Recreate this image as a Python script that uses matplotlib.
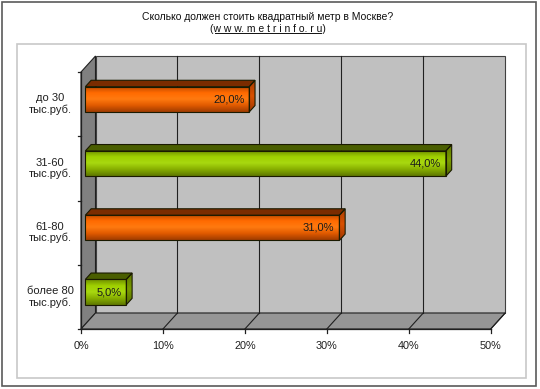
import numpy as np
import matplotlib
matplotlib.use("Agg")
import matplotlib.pyplot as plt
from matplotlib.patches import Polygon, Rectangle
from matplotlib.colors import LinearSegmentedColormap

# ---- data ----
categories = ["до 30\nтыс.руб.", "31-60\nтыс.руб.", "61-80\nтыс.руб.", "более 80\nтыс.руб."]
values = [20.0, 44.0, 31.0, 5.0]
bar_colors = ["orange", "green", "orange", "green"]
xticks = [0, 10, 20, 30, 40, 50]
xtick_labels = ["0%", "10%", "20%", "30%", "40%", "50%"]
title1 = "Сколько должен стоить квадратный метр в Москве?"
title2 = "(w w w. m e t r i n f o. r u)"

W, H = 540, 389
fig = plt.figure(figsize=(W / 100, H / 100), dpi=100)
fig.patch.set_facecolor("white")

FONT = ["Liberation Sans", "DejaVu Sans"]

# pixel mapping of the front plane
X0PX, PXPER = 81.0, 8.194
Y0PX, PXPERCAT = 329.0, 64.25

def fpx(x, y):
    return x / W, 1 - y / H

# frames
fig.patches.append(Rectangle(fpx(2, 386), 534 / W, 384 / H, transform=fig.transFigure,
                             facecolor="white", edgecolor="#5a5a5a", lw=1.2, zorder=-3))
fig.patches.append(Rectangle(fpx(17, 378), 509 / W, 334 / H, transform=fig.transFigure,
                             facecolor="white", edgecolor="#c8c8c8", lw=1.2, zorder=-2))

ax = fig.add_axes([0, 0, 1, 1])
ax.set_zorder(1)
ax.set_xlim((0 - X0PX) / PXPER, (W - X0PX) / PXPER)
ax.set_ylim((Y0PX - H) / PXPERCAT, Y0PX / PXPERCAT)
ax.axis("off")

n = len(categories)
XMAX = 50.0
DX = 14.5 / PXPER       # depth shift in data units (x)
DY = 16.0 / PXPERCAT    # depth shift in data units (y)
YMAX = float(n)

# back wall
ax.add_patch(Polygon([(DX, DY), (XMAX + DX, DY), (XMAX + DX, YMAX + DY), (DX, YMAX + DY)],
                     closed=True, facecolor="#c0c0c0", edgecolor="#404040", lw=0.8, zorder=1))
# left wall
ax.add_patch(Polygon([(0, 0), (DX, DY), (DX, YMAX + DY), (0, YMAX)],
                     closed=True, facecolor="#808080", edgecolor="#202020", lw=0.8, zorder=1))
# floor
ax.add_patch(Polygon([(0, 0), (XMAX, 0), (XMAX + DX, DY), (DX, DY)],
                     closed=True, facecolor="#969696", edgecolor="#202020", lw=0.8, zorder=1))
# gridlines
for t in xticks[1:-1]:
    ax.plot([t + DX, t + DX], [DY, YMAX + DY], color="#202020", lw=0.8, zorder=2)
for t in xticks[1:]:
    ax.plot([t, t + DX], [0, DY], color="#202020", lw=0.8, zorder=2)
# axes lines and ticks
ax.plot([0, XMAX], [0, 0], color="#202020", lw=0.9, zorder=3)
ax.plot([0, 0], [0, YMAX], color="#202020", lw=0.9, zorder=3)
tlx = 3.5 / PXPER
tly = 3.5 / PXPERCAT
for t in xticks:
    ax.plot([t, t], [0, -tly], color="#202020", lw=0.9, zorder=3)
for k in range(n + 1):
    ax.plot([0, -tlx], [k, k], color="#202020", lw=0.9, zorder=3)
for t, lab in zip(xticks, xtick_labels):
    ax.text(t, -17 / PXPERCAT, lab, ha="center", va="center", fontsize=7.8,
            family=FONT, color="#202020", zorder=5)

palette = {
    "orange": dict(front=["#b84800", "#ff6a00", "#ff7a10", "#e05a00", "#a03c00"],
                   top="#7a2c00", side=["#a83c00", "#d95000", "#a03800"]),
    "green": dict(front=["#6e8c00", "#9fd000", "#a8d810", "#86ad00", "#5e7800"],
                  top="#4a5e00", side=["#5e7800", "#7a9c00", "#566e00"]),
}

d1, d2 = 0.3, 0.7
BH = 25.3 / PXPERCAT
for i, (cat, v, ck) in enumerate(zip(categories, values, bar_colors)):
    yc = (n - 1 - i) + 0.5
    ox1, oy1 = d1 * DX, d1 * DY
    ox2, oy2 = d2 * DX, d2 * DY
    yb, yt = yc - BH / 2, yc + BH / 2
    pal = palette[ck]
    # front face gradient
    front = Polygon([(ox1, yb + oy1), (v + ox1, yb + oy1), (v + ox1, yt + oy1), (ox1, yt + oy1)],
                    closed=True, facecolor="none", edgecolor="none")
    ax.add_patch(front)
    cmap = LinearSegmentedColormap.from_list("f", pal["front"][::-1])
    grad = np.linspace(0, 1, 64).reshape(-1, 1)
    im = ax.imshow(grad, cmap=cmap, aspect="auto", origin="lower",
                   extent=(ox1, v + ox1, yb + oy1, yt + oy1), zorder=4, interpolation="bilinear")
    im.set_clip_path(front)
    ax.add_patch(Polygon([(ox1, yb + oy1), (v + ox1, yb + oy1), (v + ox1, yt + oy1), (ox1, yt + oy1)],
                         closed=True, facecolor="none", edgecolor="#1a1a00", lw=0.8, zorder=4.5))
    # top face
    ax.add_patch(Polygon([(ox1, yt + oy1), (v + ox1, yt + oy1), (v + ox2, yt + oy2), (ox2, yt + oy2)],
                         closed=True, facecolor=pal["top"], edgecolor="#1a1a00", lw=0.8, zorder=4.5))
    # right face
    side = Polygon([(v + ox1, yb + oy1), (v + ox2, yb + oy2), (v + ox2, yt + oy2), (v + ox1, yt + oy1)],
                   closed=True, facecolor="none", edgecolor="none")
    ax.add_patch(side)
    cmap2 = LinearSegmentedColormap.from_list("s", pal["side"][::-1])
    im2 = ax.imshow(grad, cmap=cmap2, aspect="auto", origin="lower",
                    extent=(v + ox1, v + ox2, yb + oy1, yt + oy2), zorder=4, interpolation="bilinear")
    im2.set_clip_path(side)
    ax.add_patch(Polygon([(v + ox1, yb + oy1), (v + ox2, yb + oy2), (v + ox2, yt + oy2), (v + ox1, yt + oy1)],
                         closed=True, facecolor="none", edgecolor="#1a1a00", lw=0.8, zorder=4.5))
    # value label
    ax.text(v + ox1 - 0.6, yc + oy1, f"{v:.1f}%".replace(".", ","), ha="right", va="center",
            fontsize=8, family=FONT, color="#1a1a1a", zorder=6)
    # category label
    ax.text(-31 / PXPER, yc, cat, ha="center", va="center", fontsize=8, family=FONT,
            color="#202020", linespacing=1.1, zorder=6)

fig.text(268 / W, 1 - 17 / H, title1, ha="center", va="center", fontsize=7.5, family=FONT,
         color="#101010")
t2 = fig.text(268 / W, 1 - 29 / H, title2, ha="center", va="center", fontsize=7.5, family=FONT,
              color="#101010")
fig.canvas.draw()
bb = t2.get_window_extent()
fig.add_artist(plt.Line2D([(bb.x0 + 5) / W, (bb.x1 - 5) / W], [(bb.y0 + 1) / H, (bb.y0 + 1) / H],
                          transform=fig.transFigure, color="#101010", lw=0.7))

fig.savefig("out.png", dpi=100)
